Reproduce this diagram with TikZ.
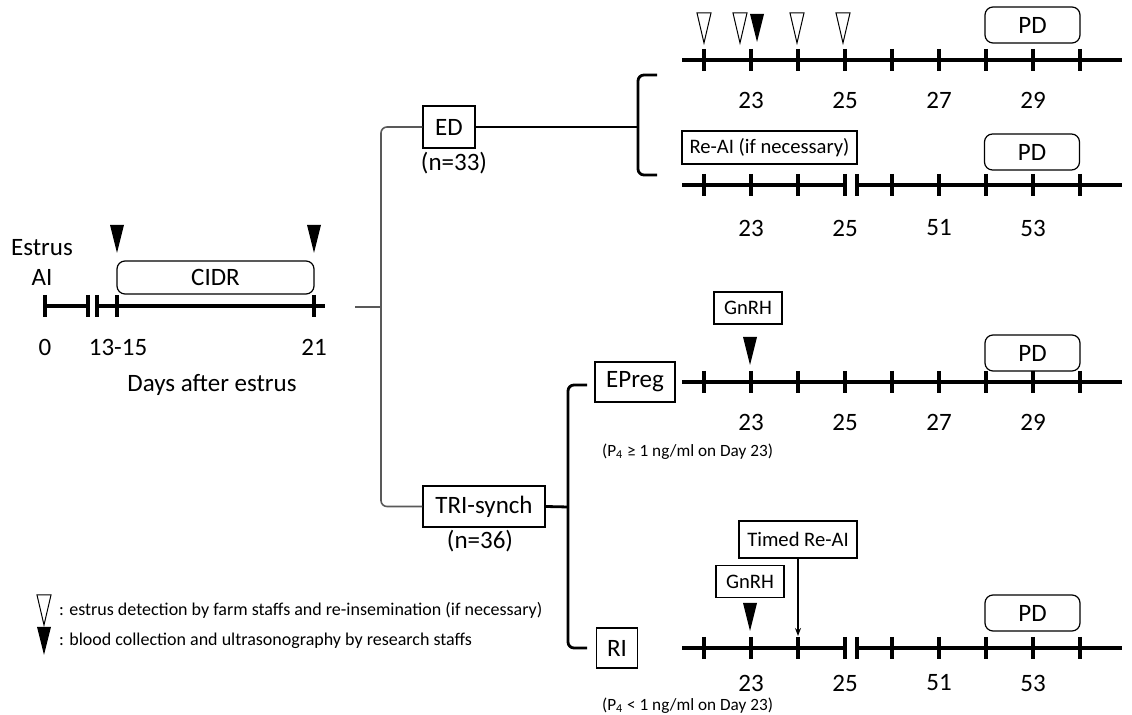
\documentclass[tikz,border=0pt]{standalone}
\usepackage{fontspec}
\setmainfont{Carlito}
\usetikzlibrary{arrows.meta}
\tikzset{tl/.style={line width=2pt},daytick/.style={line width=2pt},
 grp/.style={draw,line width=0.6pt,inner sep=0pt,font=\fontsize{12.5}{15}\selectfont},
 lbox/.style={draw,line width=0.6pt,inner sep=0pt,font=\fontsize{10.3}{12}\selectfont},
 rbox/.style={draw,line width=0.6pt,rounded corners=4pt,inner sep=0pt,minimum width=47.5pt,minimum height=18pt,font=\fontsize{12.5}{15}\selectfont},
 day/.style={font=\fontsize{12.5}{15}\selectfont},
 note/.style={font=\fontsize{8.6}{10}\selectfont},
 legend/.style={font=\fontsize{9}{11}\selectfont},
 branch/.style={draw=black!65,line width=0.8pt,rounded corners=3pt},
 bracket/.style={line width=1.4pt,rounded corners=3pt},
 wtri/.pic={\draw[line width=0.5pt,fill=white] (-7,-15) -- (7,-15) -- (0,15) -- cycle;},
 btri/.pic={\fill[black] (-7,-14) -- (7,-14) -- (0,14) -- cycle;}}

\begin{document}
\begin{tikzpicture}[x=0.5pt,y=-0.5pt]
\useasboundingbox (0,0) rectangle (1132,715);
% first cycle
\node[day,align=center] (estrus) at (42,262) {Estrus\\AI};
\node[rbox,minimum width=98.5pt,minimum height=16.5pt] (cidr) at (215.5,277.5) {CIDR};
\pic at (117,239) {btri};
\pic at (314,239) {btri};
\draw[tl] (45,306) -- (88,306);
\draw[tl] (97,306) -- (325,306);
\foreach \x in {45,88,97,117,314}
 \draw[daytick] (\x,295) -- (\x,317);
\node[day] (d0) at (45,347) {0};
\node[day] (d13) at (118,347) {13-15};
\node[day] (d21) at (314,347) {21};
\node[day] (days) at (212,385) {Days after estrus};
% groups
\coordinate (split) at (381,307);
\coordinate (start) at (355,307);
\node[grp,minimum width=26pt,minimum height=21pt] (ed) at (449,127) {ED};
\node[day] (ned) at (454,163) {(n=33)};
\node[grp,minimum width=61pt,minimum height=20.5pt] (tri) at (484,506.5) {TRI-synch};
\node[day] (ntri) at (480,541) {(n=36)};
\draw[branch] (start) -- (split);
\draw[branch] (ed.west) -| (split) |- (tri.west);
% ED bracket
\coordinate (edfork) at (638,127);
\draw[line width=1.4pt] (ed.east) -- (edfork);
\draw[bracket] (657,75) -- (638,75) -- (638,175) -- (657,175);
% ED, first line
\pic at (704,28) {wtri};
\pic at (740,28) {wtri};
\pic at (757,28) {btri};
\pic at (797,28) {wtri};
\pic at (843,28) {wtri};
\node[rbox] (pd1) at (1032.5,25) {PD};
\draw[tl] (682,60) -- (1122,60);
\foreach \x in {704,751,798,845,892,939,986,1033,1080}
 \draw[daytick] (\x,49) -- (\x,71);
\foreach \x/\d in {751/23,845/25,939/27,1033/29}
 \node[day] at (\x,100) {\d};
% ED, second line
\node[lbox,minimum width=87.5pt,minimum height=16.5pt] (reai) at (769.5,147.5) {Re-AI (if necessary)};
\node[rbox] (pd2) at (1032,152) {PD};
\draw[tl] (682,185) -- (845,185);
\draw[tl] (857,185) -- (1122,185);
\foreach \x in {704,751,798,845,857,892,939,986,1033,1080}
 \draw[daytick] (\x,174) -- (\x,196);
\foreach \x/\d in {751/23,845/25,939/51,1033/53}
 \node[day] at (\x,228) {\d};
% TRI-synch bracket
\node[grp,minimum width=40pt,minimum height=20pt] (epreg) at (635,382) {EPreg};
\node[grp,minimum width=20.5pt,minimum height=20pt] (ri) at (617,648) {RI};
\coordinate (trifork) at (568,507);
\draw[line width=1.4pt] (tri.east) -- (trifork);
\draw[bracket] (587,385) -- (568,385) -- (568,648) -- (587,648);
% EPreg line
\node[lbox,minimum width=34pt,minimum height=16pt] (gn1) at (748,308) {GnRH};
\pic at (750,351) {btri};
\node[rbox] (pd3) at (1032.5,353) {PD};
\draw[tl] (682,382) -- (1122,382);
\foreach \x in {704,751,798,845,892,939,986,1033,1080}
 \draw[daytick] (\x,371) -- (\x,393);
\foreach \x/\d in {751/23,845/25,939/27,1033/29}
 \node[day] at (\x,422) {\d};
\node[note,anchor=west] (p4hi) at (595,452) {(P\textsubscript{4} ≥ 1 ng/ml on Day 23)};
% RI line
\node[lbox,minimum width=59pt,minimum height=18.5pt] (timed) at (798,539.5) {Timed Re-AI};
\node[lbox,minimum width=34pt,minimum height=16pt] (gn2) at (750,581.5) {GnRH};
\pic at (750,617) {btri};
\node[rbox] (pd4) at (1032.5,613) {PD};
\coordinate (ritop) at (798,636);
\draw[line width=1pt,-{Stealth[length=4pt,width=3pt]}] (timed.south) -- (ritop);
\draw[tl] (682,648) -- (845,648);
\draw[tl] (857,648) -- (1122,648);
\foreach \x in {704,751,798,845,857,892,939,986,1033,1080}
 \draw[daytick] (\x,637) -- (\x,659);
\foreach \x/\d in {751/23,845/25,939/51,1033/53}
 \node[day] at (\x,683) {\d};
\node[note,anchor=west] (p4lo) at (595,706) {(P\textsubscript{4} < 1 ng/ml on Day 23)};
% legend
\pic at (44,610) {wtri};
\node[legend,anchor=west] (lw) at (52,610) {: estrus detection by farm staffs and re-insemination (if necessary)};
\pic at (44,641) {btri};
\node[legend,anchor=west] (lb) at (52,641) {: blood collection and ultrasonography by research staffs};
\end{tikzpicture}
\end{document}
